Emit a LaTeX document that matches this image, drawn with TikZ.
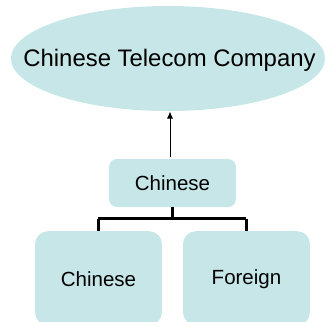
\documentclass[tikz,border=0pt]{standalone}
\usepackage{fontspec}
\setmainfont{Liberation Sans}
\usetikzlibrary{shapes.geometric,arrows.meta}
\definecolor{boxfill}{RGB}{198,230,232}
\begin{document}
\begin{tikzpicture}[x=1pt,y=-1pt,
  box/.style={fill=boxfill, rounded corners=#1, inner sep=0pt},
  link/.style={draw=black, line width=2.4pt},
  lbl/.style={font=\fontsize{20.5}{24}\selectfont}]
\useasboundingbox (0,0) rectangle (325,322);
\node[ellipse, fill=boxfill, minimum width=314pt, minimum height=105pt, inner sep=0pt] (top) at (168,58.5) {};
\node[font=\fontsize{23.9}{28}\selectfont] (toptext) at (169.5,60) {Chinese Telecom Company};
\node[box=8pt, minimum width=127pt, minimum height=48pt, lbl] (mid) at (172.5,183) {Chinese};
\begin{scope}
\clip (0,0) rectangle (325,322);
\node[box=13pt, minimum width=127pt, minimum height=94pt, anchor=north] (left) at (98.5,231) {};
\node[box=13pt, minimum width=127pt, minimum height=94pt, anchor=north] (right) at (246.5,231) {};
\end{scope}
\node[lbl] (lt) at (98.5,279.5) {Chinese};
\node[lbl] (rt) at (246.5,279.5) {Foreign};
\draw[line width=0.9pt, -{Latex[length=7pt,width=6pt]}] (170,157) -- (170,111.5) coordinate (tip);
\coordinate (j) at (172.5,218.5);
\draw[link] (mid.south) -- (j);
\draw[link] (left.north |- j) -- (right.north |- j);
\draw[link] (left.north |- j) -- (left.north);
\draw[link] (right.north |- j) -- (right.north);
\end{tikzpicture}
\end{document}
